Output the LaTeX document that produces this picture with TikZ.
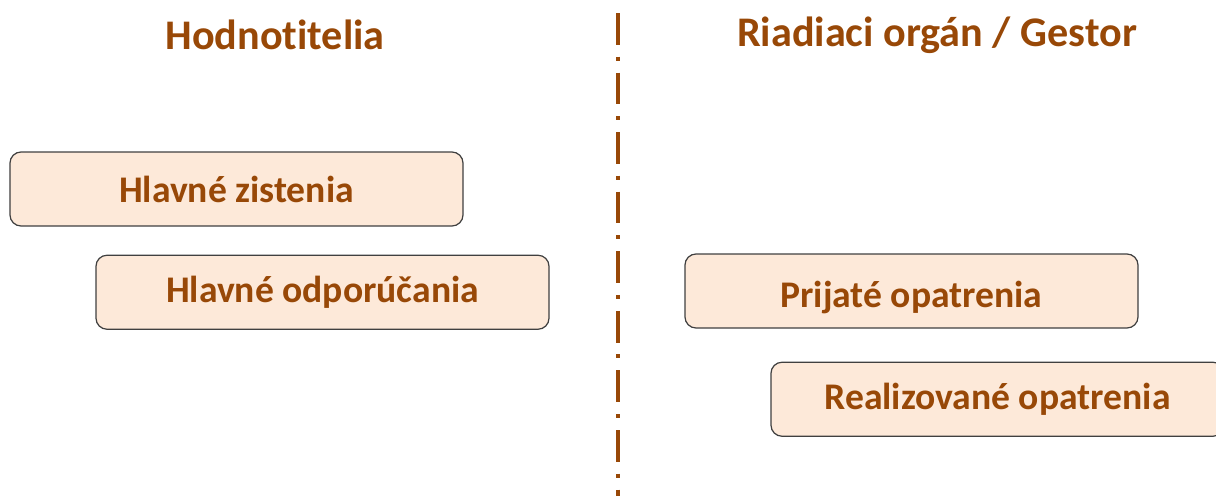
\documentclass[tikz,border=0pt]{standalone}
\usepackage{fontspec}
\setmainfont{Carlito}[Ligatures=NoCommon]
\usetikzlibrary{positioning}
\definecolor{hnedá}{RGB}{152, 72, 7}
\definecolor{broskyna}{RGB}{253, 233, 217}
\definecolor{okraj}{RGB}{64, 64, 64}

\begin{document}
\begin{tikzpicture}[
    titul/.style={font=\fontsize{24}{28}\selectfont\bfseries, text=hnedá},
    krok/.style={rectangle, draw=okraj, line width=0.7pt, rounded corners=0.22cm, fill=broskyna, minimum width=9.06cm, minimum height=1.48cm, inner sep=0pt, font=\fontsize{21.4}{25}\selectfont\bfseries, text=hnedá},
    delic/.style={draw=hnedá, line width=2.3pt, dash pattern=on 18pt off 6.8pt on 2.3pt off 6.8pt}
]
\clip (0,0) rectangle (24.32,-9.92);
\node[titul] (hodn) at (5.5,-0.7) {Hodnotitelia};
\node[titul] (riad) at (18.74,-0.7) {Riadiaci orgán / Gestor};

\node[krok] (zist) at (4.73,-3.78) {Hlavné zistenia};
\node[krok, below=0.56cm of zist, xshift=1.72cm] (odpo) {Hlavné odporúčania};
\node[krok, text height=22pt, text depth=2.8pt] (prij) at (18.23,-5.82) {Prijaté opatrenia};
\node[krok, below=0.66cm of prij, xshift=1.72cm] (real) {Realizované opatrenia};

\coordinate (hore) at (12.36,-0.26);
\coordinate (dole) at (12.36,-9.92);
\draw[delic] (hore) -- (dole);
\end{tikzpicture}
\end{document}
